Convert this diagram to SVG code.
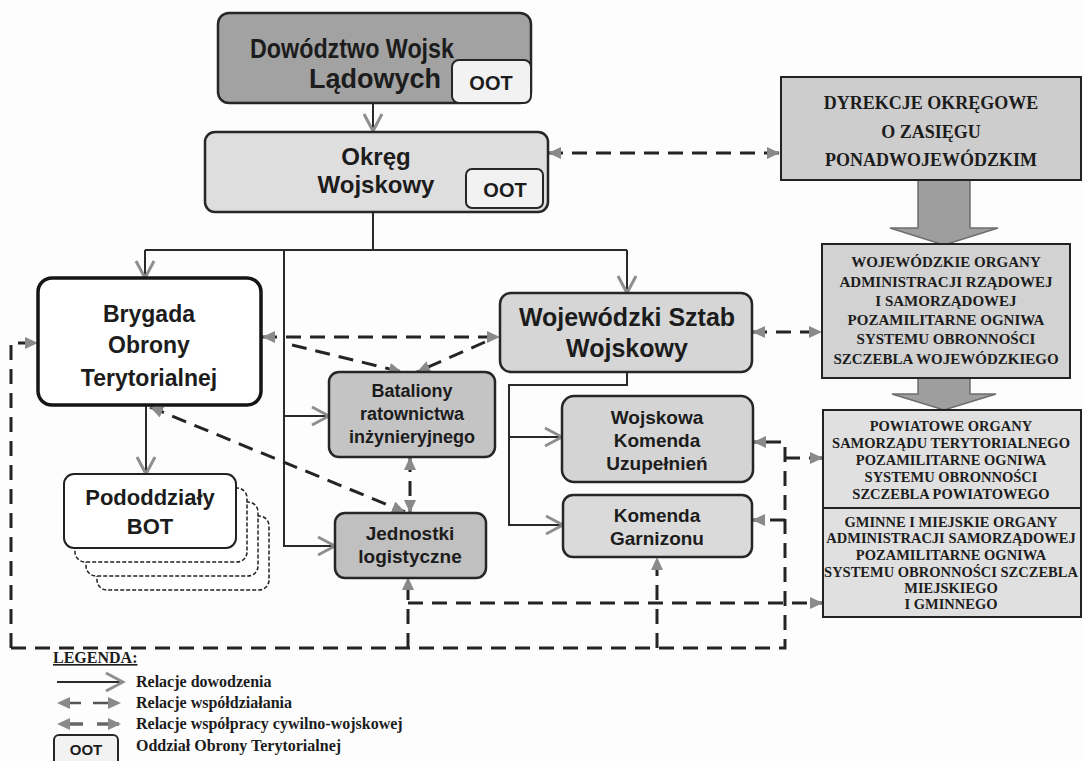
<svg xmlns="http://www.w3.org/2000/svg" width="1084" height="761" viewBox="0 0 1084 761">
<defs>
<style>
.t{font-family:"Liberation Sans",Arial,sans-serif;font-weight:bold;fill:#1c1c1c;text-anchor:middle}
.s{font-family:"Liberation Serif","Times New Roman",serif;font-weight:bold;fill:#1c1c1c;text-anchor:middle}
.l{font-family:"Liberation Serif","Times New Roman",serif;font-weight:bold;fill:#1c1c1c;font-size:16px}
.box{stroke:#262626;stroke-width:2.5}
.rbox{stroke:#222;stroke-width:2}
.cmd{fill:none;stroke:#2a2a2a;stroke-width:2}
.co{fill:none;stroke:#242424;stroke-width:3;stroke-dasharray:15 9}
.oot{fill:#f2f2f2;stroke:#262626;stroke-width:2}
.big{fill:#9e9e9e;stroke:#6e6e6e;stroke-width:1.5}
</style>
<marker id="mv" markerUnits="userSpaceOnUse" markerWidth="22" markerHeight="22" refX="19" refY="11" orient="auto"><path d="M2,2 L19,11 L2,20" fill="none" stroke="#8f8f8f" stroke-width="3"/></marker>
<marker id="mt" markerUnits="userSpaceOnUse" markerWidth="14" markerHeight="12" refX="13" refY="6" orient="auto-start-reverse"><path d="M0,0 L13,6 L0,12 z" fill="#8a8a8a"/></marker>
</defs>
<rect width="1084" height="761" fill="#fdfdfd"/>

<g id="connectors">
<path class="cmd" d="M373,103 V131" marker-end="url(#mv)"/>
<path class="cmd" d="M373,212 V250 M145,250 H627"/>
<path class="cmd" d="M145,250 V278" marker-end="url(#mv)"/>
<path class="cmd" d="M627,250 V293" marker-end="url(#mv)"/>
<path class="cmd" d="M284,250 V546 H335" marker-end="url(#mv)"/>
<path class="cmd" d="M284,416 H329" marker-end="url(#mv)"/>
<path class="cmd" d="M146,405 V474" marker-end="url(#mv)"/>
<path class="cmd" d="M627,372 V385 H509 V525 H563" marker-end="url(#mv)"/>
<path class="cmd" d="M509,437 H562" marker-end="url(#mv)"/>

<path class="co" d="M262,337 H500" marker-start="url(#mt)" marker-end="url(#mt)"/>
<path class="co" d="M292,345 L402,372" marker-end="url(#mt)"/>
<path class="co" d="M485,342 L417,372" marker-end="url(#mt)"/>
<path class="co" d="M150,407 L405,512" marker-start="url(#mt)" marker-end="url(#mt)"/>
<path class="co" d="M410,457 V513" marker-start="url(#mt)" marker-end="url(#mt)"/>

<path class="co" d="M548,153 H780" marker-start="url(#mt)" marker-end="url(#mt)"/>
<path class="co" d="M752,332 H822" marker-start="url(#mt)" marker-end="url(#mt)"/>
<path class="co" d="M11,648 V343 H38" marker-end="url(#mt)"/>
<path class="co" d="M11,648 H785 V442 H753" marker-end="url(#mt)"/>
<path class="co" d="M785,458 H823" marker-end="url(#mt)"/>
<path class="co" d="M785,520 H752" marker-end="url(#mt)"/>
<path class="co" d="M408,648 V577" marker-end="url(#mt)"/>
<path class="co" d="M408,603 H823" marker-end="url(#mt)"/>
<path class="co" d="M657,648 V557" marker-end="url(#mt)"/>

<path class="big" d="M918,180 H970 V228 H998 L944,245 L890,228 H918 Z"/>
<path class="big" d="M918,378 H970 V394 H996 L944,410 L892,394 H918 Z"/>
</g>

<g id="dwl">
<rect class="box" x="218" y="13" width="313" height="90" rx="11" fill="#a2a2a2"/>
<text class="t" x="352" y="58" font-size="28" textLength="204" lengthAdjust="spacingAndGlyphs">Dowództwo Wojsk</text>
<text class="t" x="375" y="88" font-size="28" textLength="132" lengthAdjust="spacingAndGlyphs">Lądowych</text>
<rect class="oot" x="452" y="60" width="79" height="43" rx="7"/>
<text class="t" x="491" y="90" font-size="20">OOT</text>
</g>

<g id="okreg">
<rect class="box" x="205" y="132" width="343" height="80" rx="10" fill="#dedede"/>
<text class="t" x="376" y="165" font-size="24">Okręg</text>
<text class="t" x="376" y="193" font-size="24">Wojskowy</text>
<rect class="oot" x="466" y="169" width="77" height="39" rx="6"/>
<text class="t" x="505" y="197" font-size="20">OOT</text>
</g>

<g id="dyrekcje">
<rect class="rbox" x="781" y="77" width="300" height="103" fill="#cdcdcd"/>
<text class="s" x="931" y="109" font-size="18">DYREKCJE OKRĘGOWE</text>
<text class="s" x="931" y="138" font-size="18">O ZASIĘGU</text>
<text class="s" x="931" y="166" font-size="18">PONADWOJEWÓDZKIM</text>
</g>

<g id="wojewodzkie">
<rect class="rbox" x="822" y="244" width="248" height="134" fill="#d2d2d2"/>
<g class="s" font-size="15">
<text x="946" y="267">WOJEWÓDZKIE ORGANY</text>
<text x="946" y="287">ADMINISTRACJI  RZĄDOWEJ</text>
<text x="946" y="306">I SAMORZĄDOWEJ</text>
<text x="946" y="325">POZAMILITARNE OGNIWA</text>
<text x="946" y="344">SYSTEMU OBRONNOŚCI</text>
<text x="946" y="364">SZCZEBLA WOJEWÓDZKIEGO</text>
</g>
</g>

<g id="powiatowe">
<rect class="rbox" x="823" y="410" width="258" height="98" fill="#e0e0e0"/>
<g class="s" font-size="14.5">
<text x="951" y="431">POWIATOWE ORGANY</text>
<text x="951" y="448">SAMORZĄDU TERYTORIALNEGO</text>
<text x="951" y="465">POZAMILITARNE OGNIWA</text>
<text x="951" y="482">SYSTEMU OBRONNOŚCI</text>
<text x="951" y="499">SZCZEBLA POWIATOWEGO</text>
</g>
</g>

<g id="gminne">
<rect class="rbox" x="823" y="508" width="258" height="109" fill="#e0e0e0"/>
<g class="s" font-size="14.5">
<text x="951" y="527">GMINNE I MIEJSKIE ORGANY</text>
<text x="951" y="543">ADMINISTRACJI SAMORZĄDOWEJ</text>
<text x="951" y="560">POZAMILITARNE OGNIWA</text>
<text x="951" y="577">SYSTEMU OBRONNOŚCI SZCZEBLA</text>
<text x="951" y="593">MIEJSKIEGO</text>
<text x="951" y="609">I GMINNEGO</text>
</g>
</g>

<g id="brygada">
<rect x="38" y="278" width="223" height="127" rx="14" fill="#ffffff" stroke="#151515" stroke-width="3.5"/>
<text class="t" x="149" y="322" font-size="23">Brygada</text>
<text class="t" x="149" y="353" font-size="23">Obrony</text>
<text class="t" x="149" y="386" font-size="23">Terytorialnej</text>
</g>

<g id="wsw">
<rect class="box" x="500" y="293" width="252" height="79" rx="11" fill="#d6d6d6"/>
<text class="t" x="627" y="326" font-size="25">Wojewódzki Sztab</text>
<text class="t" x="627" y="357" font-size="25">Wojskowy</text>
</g>

<g id="bataliony">
<rect class="box" x="329" y="372" width="166" height="85" rx="10" fill="#c4c4c4"/>
<text class="t" x="412" y="397" font-size="18">Bataliony</text>
<text class="t" x="412" y="420" font-size="18">ratownictwa</text>
<text class="t" x="412" y="443" font-size="18">inżynieryjnego</text>
</g>

<g id="jednostki">
<rect class="box" x="335" y="513" width="151" height="65" rx="10" fill="#c0c0c0"/>
<text class="t" x="410" y="540" font-size="19">Jednostki</text>
<text class="t" x="410" y="563" font-size="19">logistyczne</text>
</g>

<g id="wku">
<rect class="box" x="562" y="396" width="191" height="86" rx="12" fill="#d4d4d4"/>
<text class="t" x="657" y="424" font-size="19">Wojskowa</text>
<text class="t" x="657" y="447" font-size="19">Komenda</text>
<text class="t" x="657" y="470" font-size="19">Uzupełnień</text>
</g>

<g id="kg">
<rect class="box" x="563" y="495" width="189" height="62" rx="10" fill="#dadada"/>
<text class="t" x="657" y="522" font-size="19">Komenda</text>
<text class="t" x="657" y="545" font-size="19">Garnizonu</text>
</g>

<g id="pododdzialy">
<g fill="#ffffff" stroke="#222" stroke-width="1.5" stroke-dasharray="4 2">
<rect x="97" y="516" width="172" height="74" rx="10"/>
<rect x="86" y="502" width="172" height="74" rx="10"/>
<rect x="75" y="488" width="172" height="74" rx="10"/>
</g>
<rect x="64" y="474" width="172" height="74" rx="10" fill="#ffffff" stroke="#222" stroke-width="2"/>
<text class="t" x="150" y="505" font-size="22">Pododdziały</text>
<text class="t" x="150" y="534" font-size="22">BOT</text>
</g>

<g id="legend">
<text class="l" x="53" y="663" font-size="14.5" text-decoration="underline">LEGENDA:</text>
<path class="cmd" d="M57,682 H123" marker-end="url(#mv)"/>
<text class="l" x="136" y="687">Relacje dowodzenia</text>
<path d="M57,703 H121" fill="none" stroke="#555" stroke-width="2.5" stroke-dasharray="20 12" stroke-dashoffset="-4" marker-start="url(#mt)" marker-end="url(#mt)"/>
<text class="l" x="136" y="708">Relacje współdziałania</text>
<path d="M57,724 H121" fill="none" stroke="#666" stroke-width="3.5" stroke-dasharray="22 14" stroke-dashoffset="-4" marker-start="url(#mt)" marker-end="url(#mt)"/>
<text class="l" x="136" y="729">Relacje współpracy cywilno-wojskowej</text>
<rect class="oot" x="54" y="735" width="64" height="30" rx="5" fill="#ffffff"/>
<text class="t" x="86" y="755" font-size="15">OOT</text>
<text class="l" x="136" y="751">Oddział Obrony Terytorialnej</text>
</g>
</svg>
